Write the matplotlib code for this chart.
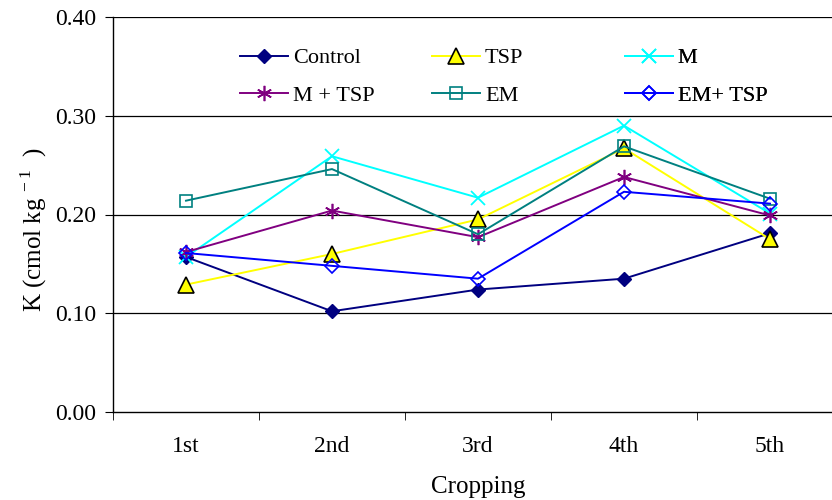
import matplotlib.pyplot as plt
import numpy as np

plt.rcParams['font.family'] = ['Liberation Serif', 'DejaVu Serif']
plt.rcParams['mathtext.fontset'] = 'custom'
plt.rcParams['mathtext.rm'] = 'Liberation Serif'

croppings = ['1st', '2nd', '3rd', '4th', '5th']
control = [0.157, 0.102, 0.124, 0.135, 0.181]
tsp = [0.129, 0.160, 0.195, 0.267, 0.175]
m = [0.157, 0.259, 0.217, 0.290, 0.201]
m_tsp = [0.162, 0.204, 0.177, 0.238, 0.199]
em = [0.214, 0.246, 0.180, 0.269, 0.216]
em_tsp = [0.161, 0.148, 0.135, 0.223, 0.211]

fig = plt.figure(figsize=(8.32, 5), dpi=100)
ax = fig.add_axes([113/832, 88/500, 730/832, 395/500])

x = np.arange(len(croppings))
styles = [
    ('Control', control, dict(color='#000080', marker='D', ms=7, mfc='#000080', mec='#000080')),
    ('TSP', tsp, dict(color='#FFFF00', marker='^', ms=11, mfc='#FFFF00', mec='black', mew=1.2)),
    ('M', m, dict(color='#00FFFF', marker='x', ms=10, mew=1.3)),
    ('M + TSP', m_tsp, dict(color='#800080', marker=(6, 2, 0), ms=11, mew=1.2)),
    ('EM', em, dict(color='#008080', marker='s', ms=8, mfc='none', mec='#008080', mew=1.2)),
    ('EM+ TSP', em_tsp, dict(color='#0000FF', marker='D', ms=7, mfc='none', mec='#0000FF', mew=1.2)),
]
handles = []
for name, vals, kw in styles:
    h, = ax.plot(x, vals, lw=1.4, label=name, **kw)
    handles.append(h)

ax.set_xlim(-0.5, 4.5)
ax.set_ylim(0, 0.40)
ax.set_yticks(np.arange(0, 0.41, 0.1))
ax.set_yticklabels(['%.2f' % v for v in np.arange(0, 0.41, 0.1)])
ax.set_xticks(x)
ax.set_xticklabels(croppings)
ax.set_xticks(np.arange(-0.5, 4.6, 1), minor=True)
ax.tick_params(axis='x', which='major', length=0, pad=17, labelsize=17)
ax.tick_params(axis='x', which='minor', length=6, direction='out', color='black')
ax.tick_params(axis='y', length=6, direction='out', labelsize=17, pad=6)

for v in [0.1, 0.2, 0.3, 0.4]:
    ax.axhline(v, color='black', lw=0.9, zorder=0)

for s in ['top', 'right']:
    ax.spines[s].set_visible(False)
ax.spines['left'].set_linewidth(1.0)
ax.spines['bottom'].set_linewidth(1.0)

ax.set_xlabel('Cropping', fontsize=18, labelpad=14)
ax.set_ylabel('K (cmol kg$^{\\,-1}$  )', fontsize=18)
ax.yaxis.set_label_coords(-0.088, 0.463)

col_x = [0.174, 0.437, 0.701]
for i, cx in enumerate(col_x):
    leg = ax.legend(handles=[handles[i], handles[i + 3]],
                    loc='upper left', bbox_to_anchor=(cx, 0.922), frameon=False,
                    fontsize=16, handlelength=2.16, handletextpad=0.22,
                    labelspacing=0.76, borderaxespad=0, borderpad=0)
    ax.add_artist(leg)

fig.savefig('out.png', dpi=100)
